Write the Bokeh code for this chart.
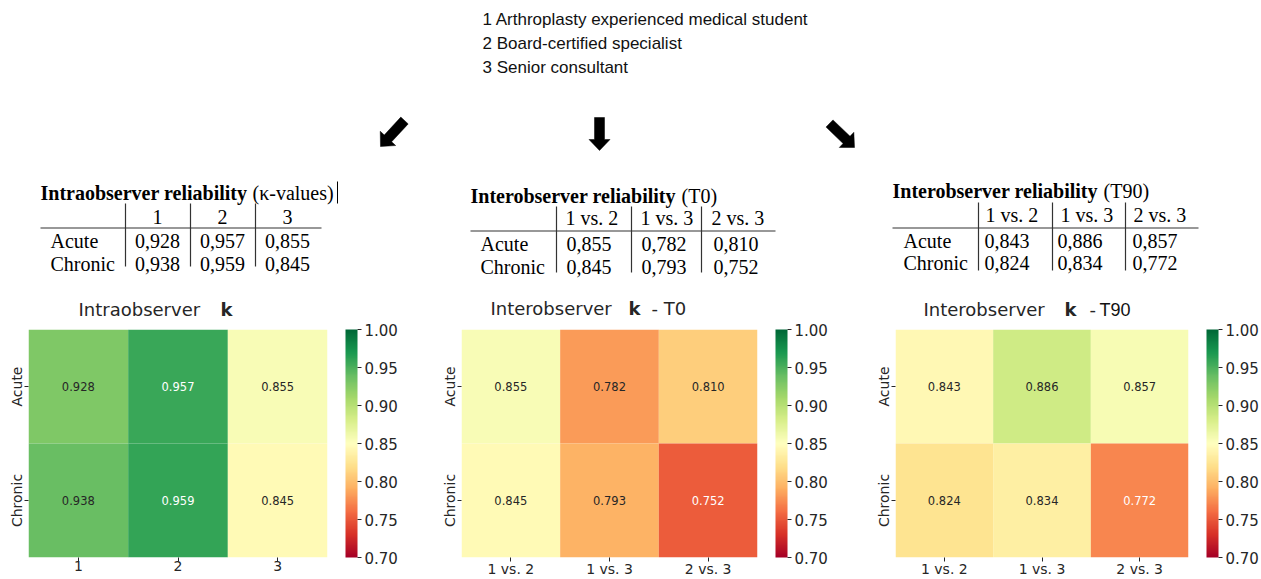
import numpy as np
from bokeh.plotting import figure
from bokeh.layouts import column, row
from bokeh.models import (ColumnDataSource, Range1d, FactorRange, LinearColorMapper,
                          ColorBar, FixedTicker, NumeralTickFormatter)
from bokeh.core.properties import value
from bokeh.embed import file_html
from bokeh.resources import INLINE

# ---------------- data ----------------
legend_lines = ["1 Arthroplasty experienced medical student",
                "2 Board-certified specialist",
                "3 Senior consultant"]
row_names = ["Acute", "Chronic"]
intra_cats = ["1", "2", "3"]
intra_acute = [0.928, 0.957, 0.855]
intra_chronic = [0.938, 0.959, 0.845]
inter_cats = ["1 vs. 2", "1 vs. 3", "2 vs. 3"]
t0_acute = [0.855, 0.782, 0.810]
t0_chronic = [0.845, 0.793, 0.752]
t90_acute = [0.843, 0.886, 0.857]
t90_chronic = [0.824, 0.834, 0.772]
cbar_ticks = [0.70, 0.75, 0.80, 0.85, 0.90, 0.95, 1.00]
vmin, vmax = 0.70, 1.00

# ---------------- colormap (RdYlGn) ----------------
anchors = ["#a50026", "#d73027", "#f46d43", "#fdae61", "#fee08b", "#ffffbf",
           "#d9ef8b", "#a6d96a", "#66bd63", "#1a9850", "#006837"]
anc = np.array([[int(h[i:i + 2], 16) for i in (1, 3, 5)] for h in anchors], float)
pos = np.linspace(0, 1, len(anchors))
tt = np.linspace(0, 1, 256)
rgb = np.stack([np.interp(tt, pos, anc[:, k]) for k in range(3)], axis=1)
palette = ["#%02x%02x%02x" % tuple(int(round(c)) for c in r) for r in rgb]
mapper = LinearColorMapper(palette=palette, low=vmin, high=vmax)


def text_color(v):
    i = int(np.clip((v - vmin) / (vmax - vmin) * 255, 0, 255))
    c = rgb[i] / 255.0
    lin = np.where(c <= 0.03928, c / 12.92, ((c + 0.055) / 1.055) ** 2.4)
    lum = 0.2126 * lin[0] + 0.7152 * lin[1] + 0.0722 * lin[2]
    return "#262626" if lum > 0.408 else "white"


DARK = "#262626"
W, H = 1261, 579

# ---------------- top canvas (pixel coordinates, y down) ----------------
TOP_H = 320
top = figure(width=W, height=TOP_H, x_range=Range1d(0, W), y_range=Range1d(TOP_H, 0),
             output_backend="svg", toolbar_location=None, x_axis_type=None, y_axis_type=None,
             min_border=0)
top.outline_line_color = None
top.grid.visible = False

# legend of observers
top.text(x=[482] * 3, y=[19, 43, 67], text=legend_lines, text_font=value("Liberation Sans"),
         text_font_size="17px", text_color="#111111", text_baseline="middle")


def arrow_poly(x0, y0, x1, y1, sw, hw, hl):
    d = np.array([x1 - x0, y1 - y0], float)
    d /= np.hypot(*d)
    n = np.array([-d[1], d[0]])
    p0 = np.array([x0, y0], float)
    p1 = np.array([x1, y1], float)
    b = p1 - d * hl
    pts = [p0 + n * sw / 2, b + n * sw / 2, b + n * hw / 2, p1,
           b - n * hw / 2, b - n * sw / 2, p0 - n * sw / 2]
    return [p[0] for p in pts], [p[1] for p in pts]


arrows = [(404, 120, 380, 146), (599, 117, 599, 150), (829, 123, 854, 147)]
axs, ays = [], []
for a in arrows:
    xs, ys = arrow_poly(*a, sw=10, hw=21, hl=11)
    axs.append(xs)
    ays.append(ys)
top.patches(axs, ays, fill_color="black", line_color="black", line_width=0.5)

SERIF = value("Liberation Serif")


def draw_table(x0, bold_t, reg_t, reg_x, yc, cats, acute, chronic, col_lines, head_x, val_x,
               head_align, line_x1, hline_y, vline_y0, vline_y1, row_x):
    top.text(x=[x0], y=[yc[0]], text=[bold_t], text_font=SERIF, text_font_style="bold",
             text_font_size="20px", text_color="black", text_baseline="middle")
    top.text(x=[reg_x], y=[yc[0]], text=[reg_t], text_font=SERIF,
             text_font_size="20px", text_color="black", text_baseline="middle")
    top.text(x=head_x, y=[yc[1]] * 3, text=cats, text_font=SERIF, text_font_size="20px",
             text_color="black", text_baseline="middle", text_align=head_align)
    top.text(x=[row_x] * 2, y=[yc[2], yc[3]], text=row_names, text_font=SERIF,
             text_font_size="20px", text_color="black", text_baseline="middle")
    vals = [f"{v:.3f}".replace(".", ",") for v in acute + chronic]
    top.text(x=val_x * 2, y=[yc[2]] * 3 + [yc[3]] * 3, text=vals, text_font=SERIF,
             text_font_size="20px", text_color="black", text_baseline="middle",
             text_align=head_align)
    top.segment(x0=[x0], y0=[hline_y], x1=[line_x1], y1=[hline_y], line_color="#333333", line_width=1.2)
    top.segment(x0=col_lines, y0=[vline_y0] * 3, x1=col_lines, y1=[vline_y1] * 3,
                line_color="#333333", line_width=1.2)


draw_table(40, "Intraobserver reliability", "(\u03ba-values)", 252, [192, 216, 240, 263],
           intra_cats, intra_acute, intra_chronic, [125, 190, 255], [157, 222, 287],
           [157, 222, 287], "center", 321, 227.5, 203, 266, 50)
draw_table(470, "Interobserver reliability", "(T0)", 681, [195, 217, 243, 266],
           inter_cats, t0_acute, t0_chronic, [556, 631, 701], [565, 640, 711],
           [566, 641, 713], "left", 775, 230.5, 206, 272, 480)
draw_table(892, "Interobserver reliability", "(T90)", 1103, [190, 214, 240, 262],
           inter_cats, t90_acute, t90_chronic, [978, 1052, 1125], [985, 1060, 1133],
           [984, 1057, 1132], "left", 1198, 227.5, 202, 270, 903)
# text cursor after first title
top.segment(x0=[337], y0=[181], x1=[337], y1=[203], line_color="black", line_width=1)

# heatmap titles (mixed weights, so drawn as separate texts above the heatmaps)
SANS = "DejaVu Sans"
top.text(x=[78, 490, 923], y=[309, 308, 309], text=["Intraobserver", "Interobserver", "Interobserver"],
         text_font=value(SANS), text_font_size="18px", text_color=DARK, text_baseline="middle")
top.text(x=[220, 628, 1064], y=[309, 308, 309], text=["k", "k", "k"], text_font=value(SANS),
         text_font_style="bold", text_font_size="18px", text_color=DARK, text_baseline="middle")
top.text(x=[651, 1089], y=[308, 309], text=["- T0", "-"], text_font=value(SANS),
         text_font_size="18px", text_color=DARK, text_baseline="middle")
top.text(x=[1099], y=[309.5], text=["T90"], text_font=value("Liberation Sans"),
         text_font_size="18px", text_color="#111111", text_baseline="middle")

# ---------------- heatmaps ----------------
ROW_H = H - TOP_H
FRAME_TOP = 329  # page y of the heatmap frames' top edge


def heatmap(cats, acute, chronic, width, left, right, cb_gap):
    p = figure(width=width, height=ROW_H, x_range=FactorRange(factors=cats),
               y_range=FactorRange(factors=row_names[::-1]), output_backend="svg",
               toolbar_location=None, min_border_left=left, min_border_right=right,
               min_border_top=FRAME_TOP - TOP_H, min_border_bottom=0)
    p.outline_line_color = None
    p.grid.visible = False
    vals = acute + chronic
    src = ColumnDataSource(dict(x=cats * 2, y=[row_names[0]] * 3 + [row_names[1]] * 3, v=vals,
                                label=[f"{v:.3f}" for v in vals], tc=[text_color(v) for v in vals]))
    p.rect(x="x", y="y", width=1, height=1, source=src,
           fill_color={"field": "v", "transform": mapper}, line_color=None)
    p.text(x="x", y="y", text="label", source=src, text_align="center", text_baseline="middle",
           text_font=value(SANS), text_font_size="11.5px", text_color="tc")
    for ax in (p.xaxis, p.yaxis):
        ax.axis_line_color = None
        ax.major_tick_in = 0
        ax.major_tick_out = 4
        ax.major_tick_line_color = DARK
        ax.major_label_text_font = SANS
        ax.major_label_text_font_size = "14px"
        ax.major_label_text_color = DARK
    p.xaxis.major_label_standoff = -1
    p.yaxis.major_label_standoff = 0
    p.yaxis.major_label_orientation = "vertical"
    cb = ColorBar(color_mapper=mapper, ticker=FixedTicker(ticks=cbar_ticks),
                  formatter=NumeralTickFormatter(format="0.00"), width=12, margin=0, padding=0,
                  location=(cb_gap, 0),
                  major_tick_in=0, major_tick_out=4, major_tick_line_color=DARK,
                  minor_tick_line_color=None, bar_line_color=None, border_line_color=None,
                  label_standoff=3, major_label_text_font=SANS,
                  major_label_text_font_size="15px", major_label_text_color=DARK,
                  background_fill_color=None)
    p.add_layout(cb, "right")
    return p


h1 = heatmap(intra_cats, intra_acute, intra_chronic, 438, 28, 111, 18)
h2 = heatmap(inter_cats, t0_acute, t0_chronic, 434, 21, 115, 18)
h3 = heatmap(inter_cats, t90_acute, t90_chronic, 389, 21, 69, 18)

layout = column(top, row(h1, h2, h3, spacing=0), spacing=0)
open("out.html", "w").write(file_html(layout, INLINE))
